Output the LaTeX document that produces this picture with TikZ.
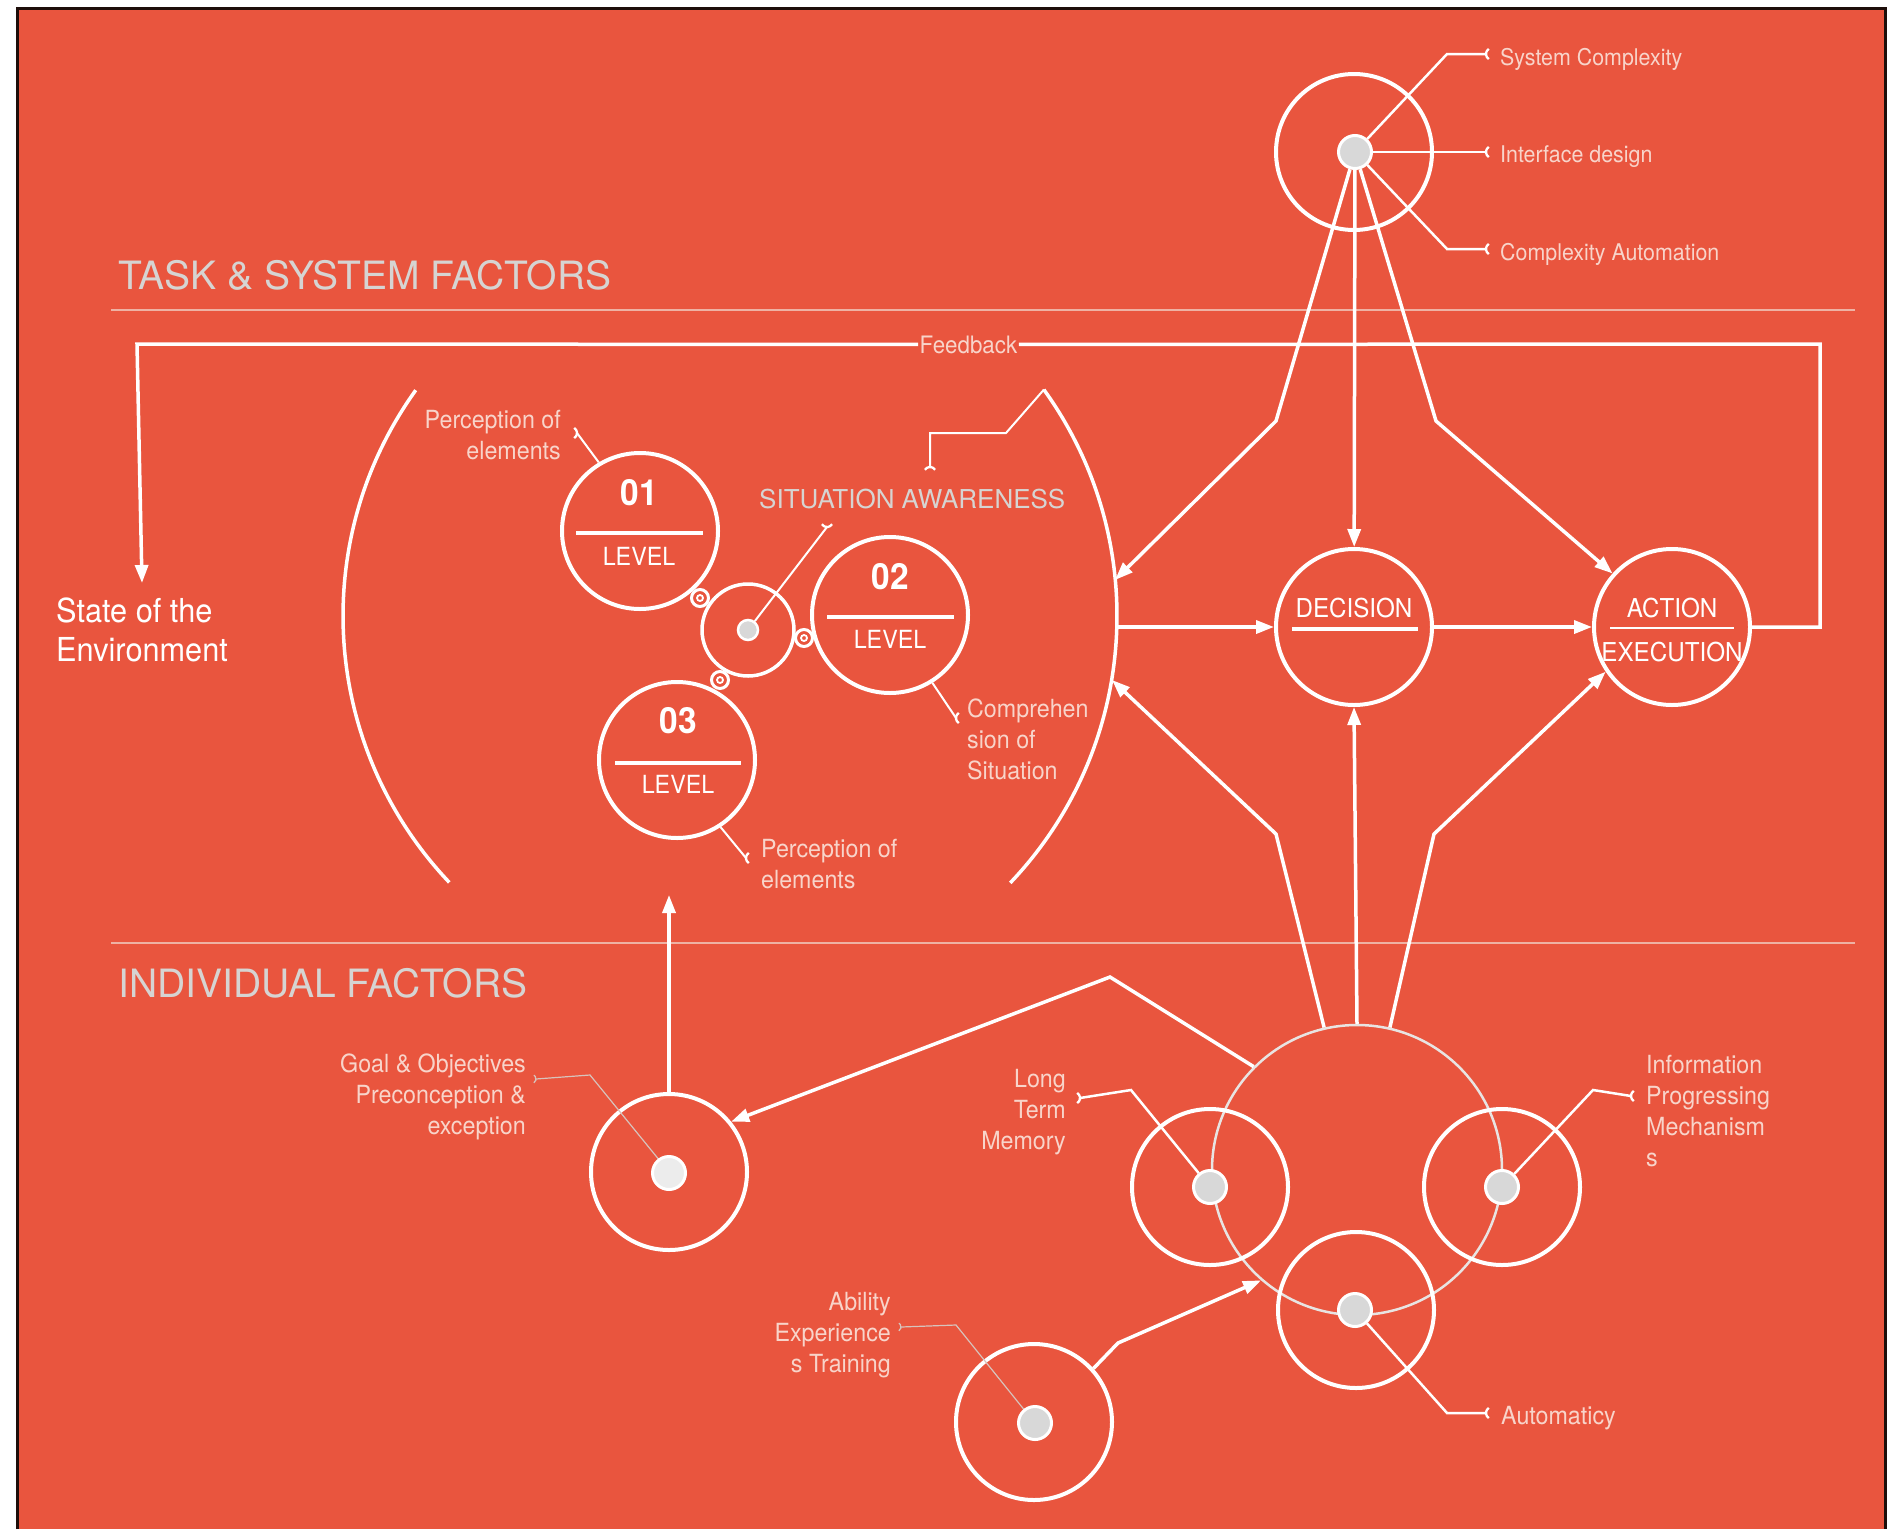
\documentclass[tikz,border=0pt]{standalone}
\usepackage{fontspec}
\setmainfont{TeX Gyre Heros}[FakeStretch=0.93]
\newfontfamily\headfont{TeX Gyre Heros}
\usetikzlibrary{arrows.meta}

\definecolor{panel}{RGB}{233,85,62}
\definecolor{framedark}{RGB}{30,14,10}
\definecolor{dotgray}{RGB}{216,216,216}
\definecolor{dotpale}{RGB}{236,236,236}
\definecolor{titlegray}{RGB}{214,212,210}
\definecolor{labpink}{RGB}{248,212,202}
\definecolor{rulepink}{RGB}{238,178,164}
\definecolor{thingray}{RGB}{215,195,188}
\definecolor{bigring}{RGB}{232,228,226}

\newcommand{\rlines}[1]{\begin{tabular}[t]{@{}r@{}}#1\end{tabular}}
\newcommand{\llines}[1]{\begin{tabular}[t]{@{}l@{}}#1\end{tabular}}

\tikzset{
  wline/.style={draw=white, line width=3.5pt},
  arr/.style={wline, -{Triangle[length=18pt,width=13pt]}},
  arcline/.style={draw=white, line width=3.5pt},
  leadw/.style={draw=white, line width=2.5pt},
  leadsm/.style={draw=white, line width=2pt},
  leadg/.style={draw=thingray, line width=1.2pt},
  secrule/.style={draw=rulepink, line width=1.8pt},
  bigc/.style={circle, draw=white, line width=4pt, minimum size=156pt, inner sep=0pt},
  sac/.style={circle, draw=white, line width=3.5pt, minimum size=92pt, inner sep=0pt},
  indc/.style={circle, draw=bigring, line width=2.5pt, minimum size=290pt, inner sep=0pt},
  dotc/.style={circle, fill=dotgray, draw=white, line width=3pt, minimum size=33pt, inner sep=0pt},
  sadot/.style={circle, fill=dotgray, draw=white, line width=2.5pt, minimum size=20pt, inner sep=0pt},
  ringo/.style={circle, draw=white, line width=3pt, minimum size=17pt, inner sep=0pt},
  ringi/.style={circle, draw=white, line width=1.8pt, minimum size=6pt, inner sep=0pt},
  ttl/.style={text=titlegray, font=\headfont\fontsize{39}{47}\selectfont, inner sep=0pt, anchor=base west},
  labtxt/.style={text=labpink, font=\fontsize{25}{31}\selectfont, inner sep=0pt},
  smlab/.style={text=labpink, font=\fontsize{23}{28}\selectfont, inner sep=0pt, anchor=base west},
  numtxt/.style={text=white, font=\bfseries\fontsize{36}{40}\selectfont, inner sep=0pt, anchor=base},
  lvltxt/.style={text=white, font=\fontsize{25}{30}\selectfont, inner sep=0pt, anchor=base},
  dtxt/.style={text=white, font=\fontsize{26}{30}\selectfont, inner sep=0pt, anchor=base},
  hookW/.pic={\draw[white, line width=2.3pt] (6,0) ++(122:6) arc[start angle=122, end angle=238, radius=6];},
  hookG/.pic={\draw[thingray, line width=1.3pt] (4.5,0) ++(122:4.5) arc[start angle=122, end angle=238, radius=4.5];}
}

\begin{document}
\begin{tikzpicture}[x=1pt,y=1pt]
\useasboundingbox (0,0) rectangle (1901,-1529);
\fill[white] (0,0) rectangle (1901,-1529);
\fill[panel] (17,-8) rectangle (1886,-1529);
\draw[framedark, line width=3pt] (17.5,-1529) -- (17.5,-8) -- (1885.5,-8) -- (1885.5,-1529);

% section rules and headings
\draw[secrule] (111,-310) -- (1855,-310);
\draw[secrule] (111,-943) -- (1855,-943);
\node[ttl] (tsf) at (118,-289) {TASK \& SYSTEM FACTORS};
\node[ttl] (indf) at (118,-997) {INDIVIDUAL FACTORS};

% system factors
\node[bigc] (sys) at (1354,-152) {};
\node[dotc] (sysdot) at (1355,-152) {};
\node[smlab] (lsc) at (1500,-65) {System Complexity};
\node[smlab] (lid) at (1500,-162) {Interface design};
\node[smlab] (lca) at (1500,-260) {Complexity Automation};
\coordinate (ksc) at (1447,-54);
\coordinate (hsc) at (1486,-54);
\coordinate (hid) at (1486,-152);
\coordinate (kca) at (1447,-249);
\coordinate (hca) at (1486,-249);
\draw[leadw] (sysdot) -- (ksc) -- (hsc);
\draw[leadw] (sysdot.east) -- (hid);
\draw[leadw] (sysdot) -- (kca) -- (hca);
\pic at (hsc) {hookW};
\pic at (hid) {hookW};
\pic at (hca) {hookW};

% decision and action
\node[bigc] (dec) at (1354,-627) {};
\node[dtxt] (dect) at (1354,-617) {DECISION};
\draw[white, line width=4pt] (1292,-629) -- (1418,-629);
\node[bigc] (act) at (1672,-627) {};
\node[dtxt] (actt) at (1672,-617) {ACTION};
\draw[white, line width=1.5pt] (1610,-628) -- (1734,-628);
\node[dtxt] (exet) at (1672,-661) {EXECUTION};

% feedback loop
\node[text=labpink, font=\fontsize{24}{29}\selectfont, inner sep=1.5pt, anchor=base west] (fb) at (918,-353) {Feedback};
\coordinate (fbR) at (1820,-344);
\coordinate (fbL) at (137,-344);
\coordinate (envArr) at (142,-583);
\draw[wline] (act.east) -| (fbR) -- (fb.east);
\draw[arr] (fb.west) -- (fbL) -- (envArr);
\node[text=white, font=\fontsize{33}{39}\selectfont, inner sep=0pt, anchor=base west] (env) at (56,-622) {\llines{State of the\\Environment}};

% situation awareness bracket
\coordinate (saC) at (730,-616);
\draw[arcline] (saC) ++(144.3:387) arc[start angle=144.3, end angle=223.5, radius=387];
\draw[arcline] (saC) ++(35.8:387) arc[start angle=35.8, end angle=-43.6, radius=387];
\coordinate (saTop) at (1043.9,-389.6);
\coordinate (saUp) at (1115,-580);
\coordinate (saMid) at (1117,-627);
\coordinate (saLow) at (1112,-680);
\node[text=titlegray, font=\headfont\fontsize{26}{31}\selectfont, inner sep=0pt, anchor=base west] (sat) at (759,-508) {SITUATION AWARENESS};
\coordinate (sak1) at (1006,-433);
\coordinate (sak2) at (930,-433);
\coordinate (sah) at (930,-467);
\draw[leadsm] (saTop) -- (sak1) -- (sak2) -- (sah);
\pic[rotate=-90] at (sah) {hookW};

% levels
\node[sac] (sa) at (748,-630) {};
\node[sadot] (sadot) at (748,-630) {};
\coordinate (sah2) at (827,-527);
\draw[leadsm] (sadot) -- (sah2);
\pic[rotate=90] at (sah2) {hookW};

\node[bigc] (l1) at (640,-531) {};
\node[numtxt] (l1n) at (639,-505) {01};
\draw[white, line width=4pt] ([shift={(-64,-2)}]l1.center) -- ([shift={(63,-2)}]l1.center);
\node[lvltxt] (l1t) at (639,-565) {LEVEL};

\node[bigc] (l2) at (890,-615) {};
\node[numtxt] (l2n) at (890,-589) {02};
\draw[white, line width=4pt] ([shift={(-63,-2)}]l2.center) -- ([shift={(64,-2)}]l2.center);
\node[lvltxt] (l2t) at (890,-648) {LEVEL};

\node[bigc] (l3) at (677,-760) {};
\node[numtxt] (l3n) at (678,-733) {03};
\draw[white, line width=4pt] ([shift={(-62,-3)}]l3.center) -- ([shift={(64,-3)}]l3.center);
\node[lvltxt] (l3t) at (678,-793) {LEVEL};

\node[ringo] (r1) at (700,-598) {};
\node[ringi] (r1i) at (700,-598) {};
\node[ringo] (r2) at (804,-638) {};
\node[ringi] (r2i) at (804,-638) {};
\node[ringo] (r3) at (720,-680) {};
\node[ringi] (r3i) at (720,-680) {};

\node[labtxt, anchor=base east] (lp1) at (561,-428) {\rlines{Perception of\\elements}};
\coordinate (hp1) at (577,-433);
\draw[leadsm] (l1.121) -- (hp1);
\pic[rotate=180] at (hp1) {hookW};

\node[labtxt, anchor=base west] (lcs) at (967,-717) {\llines{Comprehen\\sion of\\Situation}};
\coordinate (hcs) at (956,-718);
\draw[leadsm] (l2.-58) -- (hcs);
\pic at (hcs) {hookW};

\node[labtxt, anchor=base west] (lp3) at (761,-857) {\llines{Perception of\\elements}};
\coordinate (hp3) at (746,-858);
\draw[leadsm] (l3.-57) -- (hp3);
\pic at (hp3) {hookW};

% arrows from task and system factors
\coordinate (kL) at (1276,-421);
\coordinate (kR) at (1436,-421);
\draw[arr] (sysdot) -- (dec);
\draw[arr] (sysdot) -- (kL) -- (saUp);
\draw[arr] (sysdot) -- (kR) -- (act.138);
\draw[arr] (saMid) -- (dec.west);
\draw[arr] (dec) -- (act);

% individual factors
\node[indc] (ind) at (1357,-1170) {};
\node[bigc] (ltm) at (1210,-1187) {};
\node[bigc] (ipm) at (1502,-1187) {};
\node[bigc] (aut) at (1356,-1310) {};
\node[bigc] (goal) at (669,-1172) {};
\node[bigc] (abl) at (1034,-1422) {};

\coordinate (kL2) at (1276,-834);
\coordinate (kR2) at (1434,-834);
\coordinate (kG) at (1110,-977);
\coordinate (kA) at (1118,-1343);
\coordinate (goalArr) at (669,-895);
\draw[arr] (ind.90) -- (dec.south);
\draw[arr] (ind.103.8) -- (kL2) -- (saLow);
\draw[arr] (ind.77.3) -- (kR2) -- (act.214);
\draw[arr] (ind.135.3) -- (kG) -- (goal.39);
\draw[arr] (goal.north) -- (goalArr);
\draw[arr] (abl.42) -- (kA) -- (ind.229);

% labels of individual factors
\coordinate (kltm) at (1131,-1090);
\coordinate (hltm) at (1080,-1098);
\coordinate (kipm) at (1593,-1090);
\coordinate (hipm) at (1631,-1096);
\coordinate (kaut) at (1447,-1413);
\coordinate (haut) at (1486,-1413);
\coordinate (kgoal) at (590,-1075);
\coordinate (hgoal) at (536,-1079);
\coordinate (kabl) at (956,-1325);
\coordinate (habl) at (901,-1327);

\node[dotc] (ltmdot) at (1210,-1187) {};
\node[dotc] (ipmdot) at (1502,-1187) {};
\node[dotc] (autdot) at (1355,-1310) {};
\draw[leadw] (ltmdot) -- (kltm) -- (hltm);
\draw[leadw] (ipmdot) -- (kipm) -- (hipm);
\draw[leadw] (autdot) -- (kaut) -- (haut);
\draw[leadg] (goal.center) -- (kgoal) -- (hgoal);
\draw[leadg] (abl.center) -- (kabl) -- (habl);
\node[dotc, fill=dotpale] (goaldot) at (669,-1173) {};
\node[dotc] (abldot) at (1035,-1423) {};
\pic[rotate=180] at (hltm) {hookW};
\pic at (hipm) {hookW};
\pic at (haut) {hookW};
\pic[rotate=180] at (hgoal) {hookG};
\pic[rotate=180] at (habl) {hookG};

\node[labtxt, anchor=base east] (lltm) at (1066,-1087) {\rlines{Long\\Term\\Memory}};
\node[labtxt, anchor=base west] (lipm) at (1646,-1073) {\llines{Information\\Progressing\\Mechanism\\s}};
\node[labtxt, anchor=base west] (laut) at (1501,-1424) {Automaticy};
\node[labtxt, anchor=base east] (lgoal) at (526,-1072) {\rlines{Goal \& Objectives\\Preconception \&\\exception}};
\node[labtxt, anchor=base east] (labl) at (891,-1310) {\rlines{Ability\\Experience\\s Training}};
\end{tikzpicture}
\end{document}
